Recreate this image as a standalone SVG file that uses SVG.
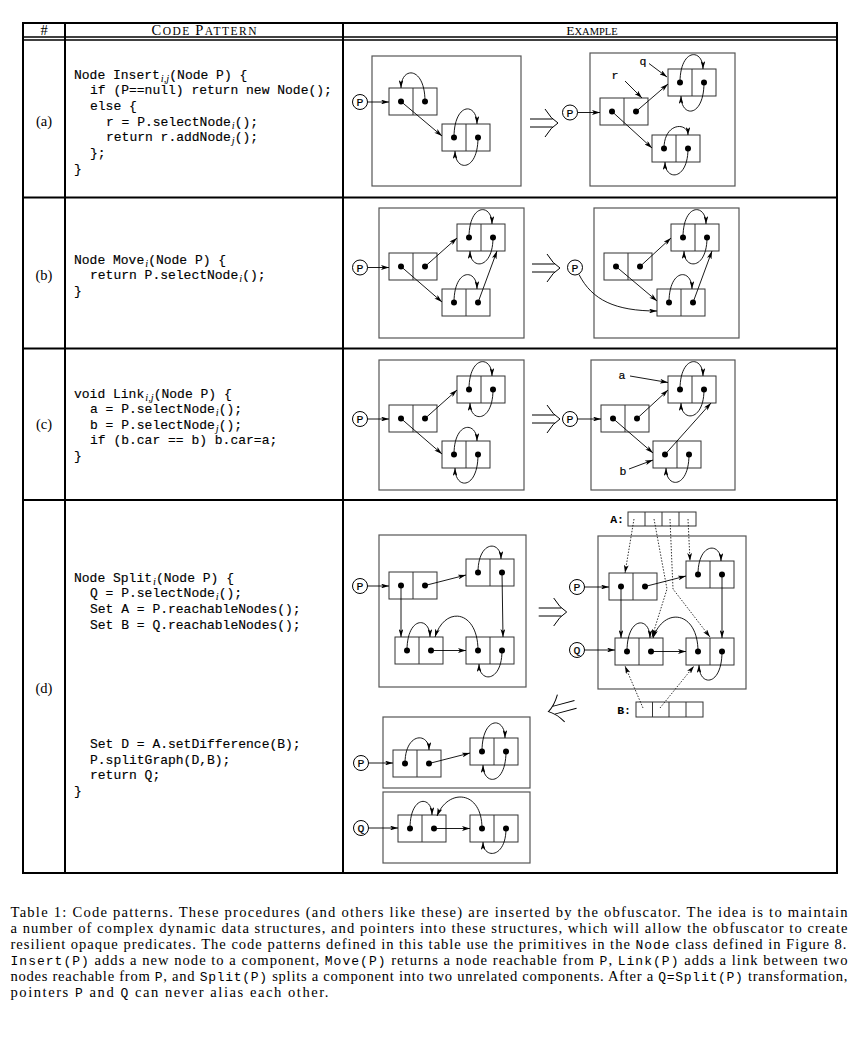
<svg xmlns="http://www.w3.org/2000/svg" width="864" height="1043" viewBox="0 0 864 1043">
<style>
.tb{stroke:#000;stroke-width:2;fill:none}
.tb2{stroke:#000;stroke-width:1.4;fill:none}
.fr{stroke:#555;stroke-width:1.2;fill:none}
.rec{stroke:#333;stroke-width:1;fill:none}
.c{stroke:#000;stroke-width:0.9;fill:none;marker-end:url(#ah)}
.d{stroke:#000;stroke-width:0.8;fill:none;stroke-dasharray:1.5 1.5;marker-end:url(#ah)}
.imp{stroke:#000;stroke-width:1;fill:none}
.pc{stroke:#000;stroke-width:1;fill:#fff}
.code{font-family:"Liberation Mono",monospace;font-size:13px;fill:#000;stroke:#000;stroke-width:0.15}
.sub{font-family:"Liberation Serif",serif;font-style:italic;font-size:10.5px;stroke-width:0}
.ser{font-family:"Liberation Serif",serif;fill:#000}
.lbl{font-family:"Liberation Mono",monospace;font-size:11.5px;text-anchor:middle;fill:#000;stroke:#000;stroke-width:0.2}
.albl{font-family:"Liberation Mono",monospace;font-size:11.5px;font-weight:bold;text-anchor:end;fill:#000}
.mono{font-family:"Liberation Mono",monospace;font-size:13px}
.cap{font-family:"Liberation Serif",serif;font-size:14.6px;fill:#000}
</style>
<defs>
<marker id="ah" viewBox="0 0 10 6" refX="10" refY="3" markerWidth="8" markerHeight="4.8" orient="auto" markerUnits="userSpaceOnUse">
<path d="M0,0 L10,3 L0,6 L2.5,3 z" fill="#000"/>
</marker>
<g id="rec">
<rect x="0" y="0" width="48" height="27" class="rec"/>
<line x1="24" y1="0" x2="24" y2="27" class="rec"/>
<circle cx="12" cy="13.5" r="3" fill="#000"/>
<circle cx="36" cy="13.5" r="3" fill="#000"/>
</g>
<path id="impl" d="M-14,-4 L8.7,-4 M-14,4 L8.7,4 M1,-14 Q7,-4 14,0 Q7,4 1,14" class="imp"/>
</defs>
<rect x="0" y="0" width="864" height="1043" fill="#fff"/>

<g id="table">
<line x1="23" y1="23" x2="837" y2="23" class="tb"/>
<line x1="23" y1="37" x2="837" y2="37" class="tb2"/>
<line x1="23" y1="40" x2="837" y2="40" class="tb2"/>
<line x1="23" y1="197.5" x2="837" y2="197.5" class="tb"/>
<line x1="23" y1="348.5" x2="837" y2="348.5" class="tb"/>
<line x1="23" y1="500" x2="837" y2="500" class="tb"/>
<line x1="23" y1="873" x2="837" y2="873" class="tb"/>
<line x1="23" y1="22" x2="23" y2="874" class="tb"/>
<line x1="65" y1="22" x2="65" y2="874" class="tb"/>
<line x1="343" y1="22" x2="343" y2="874" class="tb"/>
<line x1="837" y1="22" x2="837" y2="874" class="tb"/>
<text x="44" y="34.5" text-anchor="middle" class="ser" font-size="14.5">#</text>
<text x="204" y="34.5" text-anchor="middle" class="ser" textLength="105" lengthAdjust="spacing"><tspan font-size="14.5">C</tspan><tspan font-size="11.5">ODE </tspan><tspan font-size="14.5">P</tspan><tspan font-size="11.5">ATTERN</tspan></text>
<text x="592" y="34.5" text-anchor="middle" class="ser"><tspan font-size="13.5">E</tspan><tspan font-size="10.5">XAMPLE</tspan></text>
<text x="44" y="126" text-anchor="middle" class="ser" font-size="14.5">(a)</text>
<text x="44" y="279.5" text-anchor="middle" class="ser" font-size="14.5">(b)</text>
<text x="44" y="429" text-anchor="middle" class="ser" font-size="14.5">(c)</text>
<text x="44" y="693" text-anchor="middle" class="ser" font-size="14.5">(d)</text>
</g>

<g id="code">
<text x="74" y="78.5" class="code">Node Insert<tspan class="sub" dx="1" dy="3">i,j</tspan><tspan dy="-3">(Node P) {</tspan></text>
<text x="90" y="94.2" class="code">if (P==null) return new Node();</text>
<text x="90" y="109.9" class="code">else {</text>
<text x="106" y="125.6" class="code">r = P.selectNode<tspan class="sub" dx="1" dy="3">i</tspan><tspan dy="-3">();</tspan></text>
<text x="106" y="141.3" class="code">return r.addNode<tspan class="sub" dx="1" dy="3">j</tspan><tspan dy="-3">();</tspan></text>
<text x="90" y="157" class="code">};</text>
<text x="74" y="172.7" class="code">}</text>

<text x="74" y="263.5" class="code">Node Move<tspan class="sub" dx="1" dy="3">i</tspan><tspan dy="-3">(Node P) {</tspan></text>
<text x="90" y="279" class="code">return P.selectNode<tspan class="sub" dx="1" dy="3">i</tspan><tspan dy="-3">();</tspan></text>
<text x="74" y="294.5" class="code">}</text>

<text x="74" y="397.5" class="code">void Link<tspan class="sub" dx="1" dy="3">i,j</tspan><tspan dy="-3">(Node P) {</tspan></text>
<text x="90" y="413" class="code">a = P.selectNode<tspan class="sub" dx="1" dy="3">i</tspan><tspan dy="-3">();</tspan></text>
<text x="90" y="428.5" class="code">b = P.selectNode<tspan class="sub" dx="1" dy="3">j</tspan><tspan dy="-3">();</tspan></text>
<text x="90" y="444" class="code">if (b.car == b) b.car=a;</text>
<text x="74" y="459.5" class="code">}</text>

<text x="74" y="582" class="code">Node Split<tspan class="sub" dx="1" dy="3">i</tspan><tspan dy="-3">(Node P) {</tspan></text>
<text x="90" y="597" class="code">Q = P.selectNode<tspan class="sub" dx="1" dy="3">i</tspan><tspan dy="-3">();</tspan></text>
<text x="90" y="613" class="code">Set A = P.reachableNodes();</text>
<text x="90" y="629" class="code">Set B = Q.reachableNodes();</text>
<text x="90" y="748" class="code">Set D = A.setDifference(B);</text>
<text x="90" y="763.5" class="code">P.splitGraph(D,B);</text>
<text x="90" y="779" class="code">return Q;</text>
<text x="74" y="794.5" class="code">}</text>
</g>

<g id="frames">
<rect x="372" y="56" width="149" height="130" class="fr"/>
<rect x="590" y="53" width="145" height="133" class="fr"/>
<rect x="379" y="208" width="145" height="130" class="fr"/>
<rect x="594" y="208" width="145" height="130" class="fr"/>
<rect x="379" y="360" width="145" height="130" class="fr"/>
<rect x="591" y="360" width="144" height="130" class="fr"/>
<rect x="379" y="535" width="147" height="152" class="fr"/>
<rect x="598" y="536" width="148" height="153" class="fr"/>
<rect x="383" y="717" width="147" height="71" class="fr"/>
<rect x="383" y="792" width="147" height="71" class="fr"/>
</g>

<g id="nodes">
<g id="aL-p"><circle cx="360" cy="102" r="7.5" class="pc"/><text x="360" y="106" class="lbl">P</text></g>
<g id="aL-n1"><use href="#rec" x="389" y="88"/></g>
<g id="aL-n2"><use href="#rec" x="442" y="124"/></g>
<g id="aR-p"><circle cx="570" cy="112.5" r="7.5" class="pc"/><text x="570" y="116.5" class="lbl">P</text></g>
<g id="aR-n1"><use href="#rec" x="600" y="98"/></g>
<g id="aR-n2"><use href="#rec" x="668" y="69"/></g>
<g id="aR-n3"><use href="#rec" x="652" y="135"/></g>
<g id="aR-r"><text x="615" y="79" class="lbl">r</text></g>
<g id="aR-q"><text x="643" y="65" class="lbl">q</text></g>

<g id="bL-p"><circle cx="360" cy="267.5" r="7.5" class="pc"/><text x="360" y="271.5" class="lbl">P</text></g>
<g id="bL-n1"><use href="#rec" x="389" y="253"/></g>
<g id="bL-n2"><use href="#rec" x="457" y="224"/></g>
<g id="bL-n3"><use href="#rec" x="442" y="289"/></g>
<g id="bR-p"><circle cx="575" cy="267.5" r="7.5" class="pc"/><text x="575" y="271.5" class="lbl">P</text></g>
<g id="bR-n1"><use href="#rec" x="604" y="253"/></g>
<g id="bR-n2"><use href="#rec" x="671" y="224"/></g>
<g id="bR-n3"><use href="#rec" x="657" y="289"/></g>

<g id="cL-p"><circle cx="360" cy="419" r="7.5" class="pc"/><text x="360" y="423" class="lbl">P</text></g>
<g id="cL-n1"><use href="#rec" x="389" y="405"/></g>
<g id="cL-n2"><use href="#rec" x="457" y="376"/></g>
<g id="cL-n3"><use href="#rec" x="442" y="441"/></g>
<g id="cR-p"><circle cx="570" cy="419" r="7.5" class="pc"/><text x="570" y="423" class="lbl">P</text></g>
<g id="cR-n1"><use href="#rec" x="601" y="405"/></g>
<g id="cR-n2"><use href="#rec" x="668" y="376"/></g>
<g id="cR-n3"><use href="#rec" x="653" y="441"/></g>
<g id="cR-a"><text x="622" y="378.5" class="lbl">a</text></g>
<g id="cR-b"><text x="623" y="475" class="lbl">b</text></g>

<g id="dL-p"><circle cx="360" cy="586" r="7.5" class="pc"/><text x="360" y="590" class="lbl">P</text></g>
<g id="dL-n1"><use href="#rec" x="389" y="572"/></g>
<g id="dL-n2"><use href="#rec" x="466" y="559"/></g>
<g id="dL-n3"><use href="#rec" x="395" y="637"/></g>
<g id="dL-n4"><use href="#rec" x="466" y="637"/></g>

<g id="dR-setA"><text x="624" y="523" class="albl">A:</text><rect x="628" y="512" width="68" height="14" class="rec"/><path d="M645,512 V526 M662,512 V526 M679,512 V526" class="rec"/></g>
<g id="dR-setB"><text x="631" y="714" class="albl">B:</text><rect x="636" y="702" width="67" height="15" class="rec"/><path d="M652.5,702 V717 M669,702 V717 M686,702 V717" class="rec"/></g>
<g id="dR-p"><circle cx="577" cy="587" r="7.5" class="pc"/><text x="577" y="591" class="lbl">P</text></g>
<g id="dR-q"><circle cx="577" cy="650" r="7.5" class="pc"/><text x="577" y="654" class="lbl">Q</text></g>
<g id="dR-n1"><use href="#rec" x="609" y="573"/></g>
<g id="dR-n2"><use href="#rec" x="686" y="561"/></g>
<g id="dR-n3"><use href="#rec" x="615" y="638"/></g>
<g id="dR-n4"><use href="#rec" x="686" y="638"/></g>

<g id="dP-p"><circle cx="361" cy="763" r="7.5" class="pc"/><text x="361" y="767" class="lbl">P</text></g>
<g id="dP-n1"><use href="#rec" x="393" y="750"/></g>
<g id="dP-n2"><use href="#rec" x="470" y="738"/></g>
<g id="dQ-q"><circle cx="361" cy="828" r="7.5" class="pc"/><text x="361" y="832" class="lbl">Q</text></g>
<g id="dQ-n1"><use href="#rec" x="398" y="815"/></g>
<g id="dQ-n2"><use href="#rec" x="470" y="815"/></g>
</g>

<g id="connectors">
<path class="c" d="M367.5,102 L389,102"/>
<path class="c" d="M425,101.5 C425,66 401,66 401,88"/>
<path class="c" d="M401,101.5 L442,136"/>
<path class="c" d="M454,137.5 C454,102 477,102 477,124"/>
<path class="c" d="M478,137.5 C478,172 455,172 455,151"/>

<path class="c" d="M577.5,112.5 L600,112.5"/>
<path class="c" d="M625,81 L642,98"/>
<path class="c" d="M649,63.5 L667,77"/>
<path class="c" d="M636,111.5 L668,84"/>
<path class="c" d="M612,111.5 L652,148"/>
<path class="c" d="M680,82.5 C680,48 703,48 703,69"/>
<path class="c" d="M704,82.5 C704,118 681,118 681,96"/>
<path class="c" d="M664,148.5 C664,122 688,122 688,135"/>
<path class="c" d="M688,148.5 C688,181 665,181 665,162"/>

<path class="c" d="M367.5,267.5 L389,267.5"/>
<path class="c" d="M425,266.5 L457,238"/>
<path class="c" d="M401,266.5 L442,302"/>
<path class="c" d="M469,237.5 C469,203 492,203 492,224"/>
<path class="c" d="M493,237.5 C493,270 470,270 470,251"/>
<path class="c" d="M454,302.5 C454,268 477,268 477,289"/>
<path class="c" d="M478,302.5 L497,251"/>

<path class="c" d="M640,266.5 L671,238"/>
<path class="c" d="M616,266.5 L657,301"/>
<path class="c" d="M579,274.5 C592,300 615,311 657,311"/>
<path class="c" d="M683,237.5 C683,203 706,203 706,224"/>
<path class="c" d="M707,237.5 C707,270 684,270 684,251"/>
<path class="c" d="M669,302.5 C669,268 692,268 692,289"/>
<path class="c" d="M693,302.5 L712,251"/>

<path class="c" d="M367.5,419 L389,419"/>
<path class="c" d="M425,418.5 L457,390"/>
<path class="c" d="M401,418.5 L442,454"/>
<path class="c" d="M469,389.5 C469,355 492,355 492,376"/>
<path class="c" d="M493,389.5 C493,423 470,423 470,403"/>
<path class="c" d="M454,454.5 C454,421 477,421 477,441"/>
<path class="c" d="M478,454.5 C478,490 455,490 455,468"/>

<path class="c" d="M577.5,419 L601,419"/>
<path class="c" d="M630,376 L668,382.5"/>
<path class="c" d="M629,469 L653,460"/>
<path class="c" d="M637,418.5 L668,390"/>
<path class="c" d="M613,418.5 L653,453"/>
<path class="c" d="M665,454.5 L711,403"/>
<path class="c" d="M680,389.5 C680,355 703,355 703,376"/>
<path class="c" d="M704,389.5 C704,422 681,422 681,403"/>
<path class="c" d="M689,454.5 C689,489 666,489 666,468"/>

<path class="c" d="M367.5,586 L389,586"/>
<path class="c" d="M425,585.5 L466,575"/>
<path class="c" d="M401,585.5 L401,637"/>
<path class="c" d="M478,572.5 C478,540 501,540 501,559"/>
<path class="c" d="M502,572.5 L503,637"/>
<path class="c" d="M407,650.5 C407,616 430,616 430,637"/>
<path class="c" d="M431,650.5 L466,650.5"/>
<path class="c" d="M478,650.5 C478,610 445,605 435,637"/>
<path class="c" d="M502,650.5 C502,683 479,683 479,664"/>

<path class="c" d="M584.5,587 L609,587"/>
<path class="c" d="M584.5,650 L615,650"/>
<path class="c" d="M645,586.5 L686,576"/>
<path class="c" d="M621,586.5 L621,638"/>
<path class="c" d="M698,574.5 C698,542 721,542 721,561"/>
<path class="c" d="M722,574.5 L722,638"/>
<path class="c" d="M627,651.5 C627,616 650,616 650,638"/>
<path class="c" d="M651,651.5 L686,651.5"/>
<path class="c" d="M698,651.5 C698,611 664,606 653,638"/>
<path class="c" d="M722,651.5 C722,687 699,687 699,665"/>
<path class="d" d="M634,519 L625,573"/>
<path class="d" d="M654,519 L667,589 L652,637"/>
<path class="d" d="M670,519 L673,589 L710,637"/>
<path class="d" d="M688,519 L690,561"/>
<path class="d" d="M643,708 L625,666"/>
<path class="d" d="M660,708 L694,666"/>

<path class="c" d="M368.5,763 L393,763"/>
<path class="c" d="M405,763.5 C405,732 429,732 429,750"/>
<path class="c" d="M429,763.5 L470,753"/>
<path class="c" d="M482,751.5 C482,716 505,716 505,738"/>
<path class="c" d="M506,751.5 C506,786 483,786 483,765"/>

<path class="c" d="M368.5,828 L398,828"/>
<path class="c" d="M410,828.5 C410,795 432,795 432,815"/>
<path class="c" d="M434,828.5 L470,828.5"/>
<path class="c" d="M482,828.5 C482,790 448,788 437,816"/>
<path class="c" d="M506,828.5 C506,859 483,859 483,842"/>
</g>

<g id="transitions">
<use href="#impl" transform="translate(544,123)"/>
<use href="#impl" transform="translate(546,268)"/>
<use href="#impl" transform="translate(546,419)"/>
<use href="#impl" transform="translate(552.7,612)"/>
<use href="#impl" transform="translate(562,708) rotate(165)"/>
</g>

<g id="caption">
<text x="10.5" y="917" class="cap" textLength="837" lengthAdjust="spacing">Table 1: Code patterns. These procedures (and others like these) are inserted by the obfuscator. The idea is to maintain</text>
<text x="10.5" y="933" class="cap" textLength="837" lengthAdjust="spacing">a number of complex dynamic data structures, and pointers into these structures, which will allow the obfuscator to create</text>
<text x="10.5" y="948.5" class="cap" textLength="836" lengthAdjust="spacing">resilient opaque predicates. The code patterns defined in this table use the primitives in the <tspan class="mono">Node</tspan> class defined in Figure 8.</text>
<text x="10.5" y="964.5" class="cap" textLength="837" lengthAdjust="spacing"><tspan class="mono">Insert(P)</tspan> adds a new node to a component, <tspan class="mono">Move(P)</tspan> returns a node reachable from <tspan class="mono">P</tspan>, <tspan class="mono">Link(P)</tspan> adds a link between two</text>
<text x="10.5" y="980.5" class="cap" textLength="837" lengthAdjust="spacing">nodes reachable from <tspan class="mono">P</tspan>, and <tspan class="mono">Split(P)</tspan> splits a component into two unrelated components. After a <tspan class="mono">Q=Split(P)</tspan> transformation,</text>
<text x="10.5" y="996.5" class="cap" textLength="318" lengthAdjust="spacing">pointers <tspan class="mono">P</tspan> and <tspan class="mono">Q</tspan> can never alias each other.</text>
</g>
</svg>
